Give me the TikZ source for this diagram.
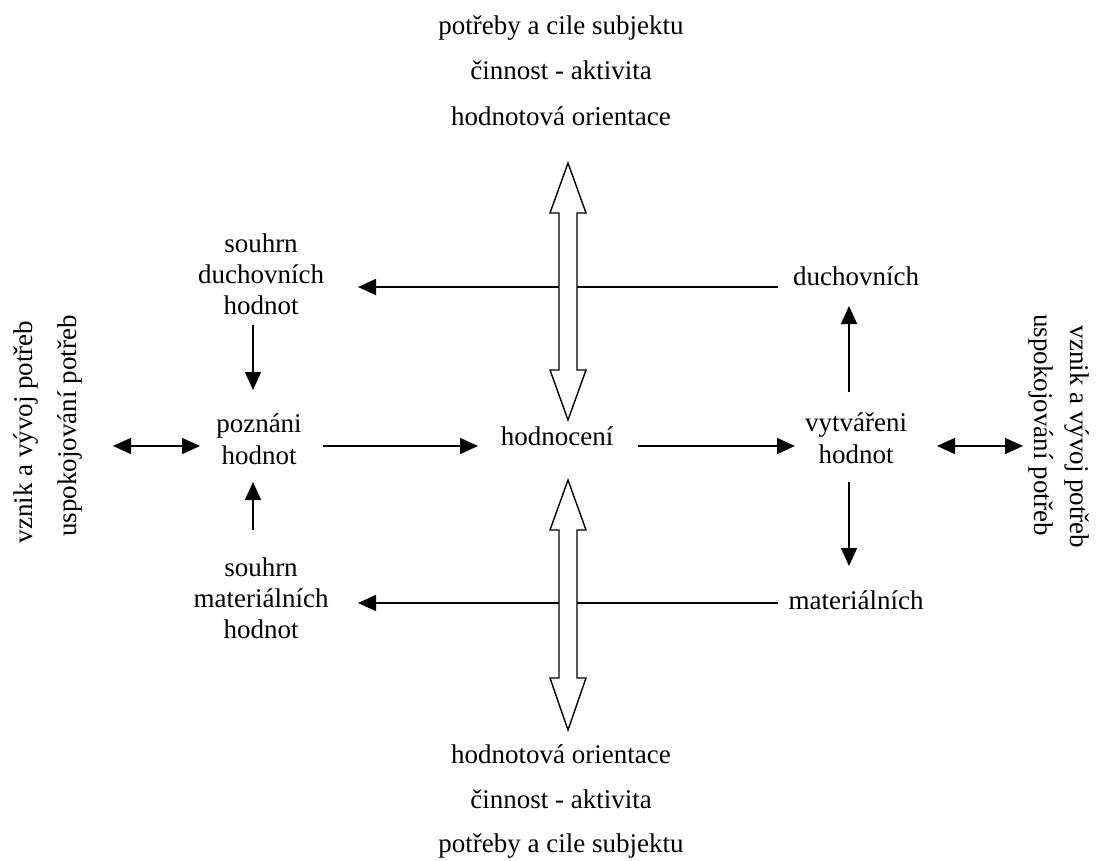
\documentclass[tikz,border=0pt]{standalone}
\usepackage{fontspec}
\setmainfont{Liberation Serif}
\usetikzlibrary{arrows.meta}
\begin{document}
\begin{tikzpicture}[x=1pt,y=-1pt,
  lbl/.style={font=\fontsize{27}{31}\selectfont, inner sep=0pt, align=center},
  lbl2/.style={font=\fontsize{27}{32}\selectfont, inner sep=0pt, align=center},
  arr/.style={line width=1.5pt, -{Triangle[length=18pt,width=16pt]}},
  darr/.style={line width=1.5pt, {Triangle[length=18pt,width=16pt]}-{Triangle[length=18pt,width=16pt]}},
  big/.style={line width=1.4pt, fill=white, line join=miter}]
\useasboundingbox (0,0) rectangle (1099,861);

% top and bottom texts
\node[lbl, anchor=base] (t1) at (561,35) {potřeby a cile subjektu};
\node[lbl, anchor=base] (t2) at (561,80) {činnost - aktivita};
\node[lbl, anchor=base] (t3) at (561,126) {hodnotová orientace};
\node[lbl, anchor=base] (b1) at (561,763) {hodnotová orientace};
\node[lbl, anchor=base] (b2) at (561,808) {činnost - aktivita};
\node[lbl, anchor=base] (b3) at (561,852) {potřeby a cile subjektu};

% side rotated texts
\node[lbl, rotate=90] (l1) at (26,432) {vznik a vývoj potřeb};
\node[lbl, rotate=90] (l2) at (70,426) {uspokojování potřeb};
\node[lbl, rotate=-90] (r1) at (1077,437) {vznik a vývoj potřeb};
\node[lbl, rotate=-90] (r2) at (1041,425) {uspokojování potřeb};

% main nodes
\node[lbl] (sd) at (261,274) {souhrn\\duchovních\\hodnot};
\node[lbl] (sm) at (261,598) {souhrn\\materiálních\\hodnot};
\node[lbl2] (pozn) at (259,439) {poznáni\\hodnot};
\node[lbl] (hodn) at (557,436) {hodnocení};
\node[lbl2] (vytv) at (856,438) {vytvářeni\\hodnot};
\node[lbl] (duch) at (856,276) {duchovních};
\node[lbl] (mat) at (856,600) {materiálních};

% connector end points
\coordinate (duchW) at (778,287);
\coordinate (sdE) at (358,287);
\coordinate (matW) at (778,603);
\coordinate (smE) at (358,603);
\coordinate (sdS) at (253,325);
\coordinate (poznN) at (253,390);
\coordinate (smN) at (253,530);
\coordinate (poznS) at (253,482);
\coordinate (vytvN) at (849,392);
\coordinate (duchS) at (849,306);
\coordinate (vytvS) at (849,482);
\coordinate (matN) at (849,566);
\coordinate (lside) at (113,446);
\coordinate (poznW) at (200,446);
\coordinate (poznE) at (323,446);
\coordinate (hodnW) at (478,446);
\coordinate (hodnE) at (638,446);
\coordinate (vytvW) at (795,446);
\coordinate (vytvE) at (937,446);
\coordinate (rside) at (1023,446);

\draw[arr] (duchW) -- (sdE);
\draw[arr] (matW) -- (smE);
\draw[arr] (sdS) -- (poznN);
\draw[arr] (smN) -- (poznS);
\draw[arr] (vytvN) -- (duchS);
\draw[arr] (vytvS) -- (matN);
\draw[darr] (lside) -- (poznW);
\draw[arr] (poznE) -- (hodnW);
\draw[arr] (hodnE) -- (vytvW);
\draw[darr] (vytvE) -- (rside);

% big hollow double arrows
\draw[big] (568,163) -- (586,213) -- (577,213) -- (577,370) -- (586,370) -- (568,420)
  -- (550,370) -- (559,370) -- (559,213) -- (550,213) -- cycle;
\draw[big] (568,480) -- (586,530) -- (577,530) -- (577,678) -- (586,678) -- (568,730)
  -- (550,678) -- (559,678) -- (559,530) -- (550,530) -- cycle;
\end{tikzpicture}
\end{document}
